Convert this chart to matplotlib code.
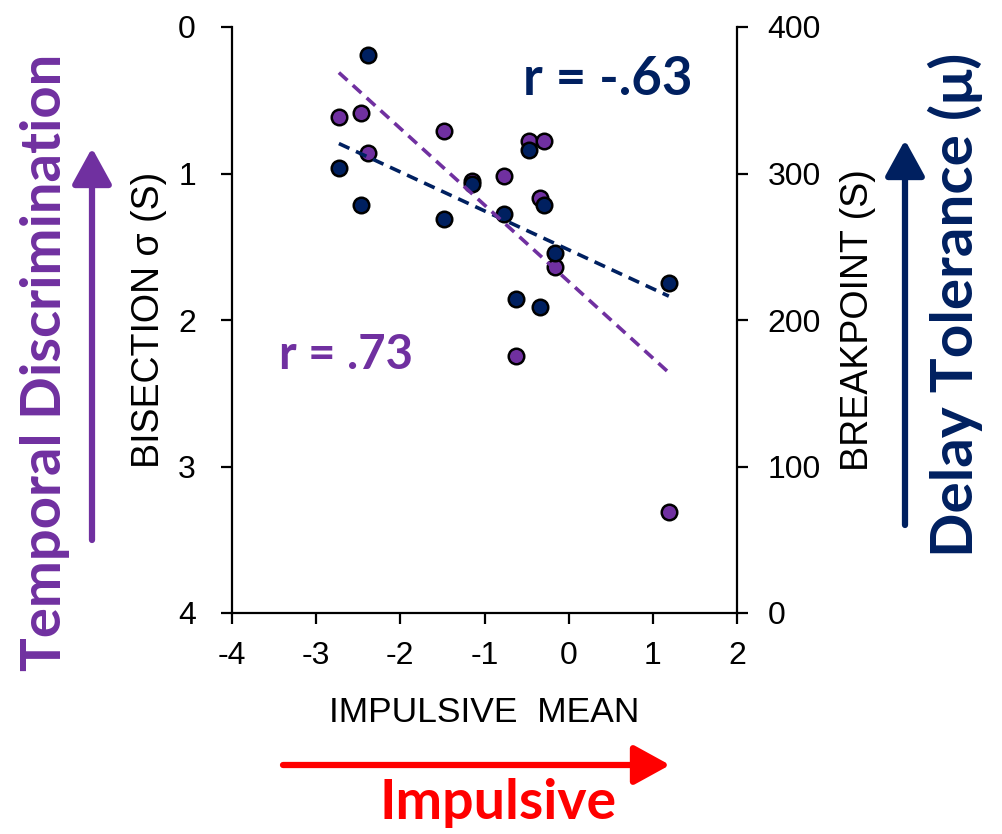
import numpy as np
import matplotlib
matplotlib.use("Agg")
import matplotlib.pyplot as plt
from matplotlib.patches import FancyArrowPatch

# ---- data ----
impulsive_mean = [-2.73, -2.47, -2.39, -1.48, -1.145, -0.77, -0.63, -0.47, -0.34, -0.29, -0.166, 1.19]
bisection_sigma = [0.612, 0.585, 0.858, 0.708, 1.05, 1.015, 2.244, 0.778, 1.165, 0.778, 1.636, 3.313]
breakpoint_s = [304, 278.5, 380.9, 268.7, 292.8, 272.2, 214.3, 316, 209.1, 278.5, 245.5, 225]
x_ticks = [-4, -3, -2, -1, 0, 1, 2]
left_ticks = [0, 1, 2, 3, 4]
right_ticks = [0, 100, 200, 300, 400]
r_purple = "r = .73"
r_navy = "r = -.63"

PURPLE = "#7030A0"
NAVY = "#002060"
RED = "#FF0000"

plt.rcParams['font.family'] = ['Liberation Sans', 'DejaVu Sans']
W, H = 1002, 834
fig = plt.figure(figsize=(W / 100, H / 100), dpi=100)

L, R, T, B = 232, 737, 27, 613
ax = fig.add_axes([L / W, 1 - B / H, (R - L) / W, (B - T) / H])
ax.set_xlim(-4, 2)
ax.set_ylim(4, 0)
ax.patch.set_alpha(0)

ax2 = ax.twinx()
ax2.set_ylim(0, 400)
ax3 = ax.twinx()
ax3.set_ylim(4, 0)
ax3.axis('off')

# scatter
ax.scatter(impulsive_mean, bisection_sigma, s=125, c=PURPLE, edgecolors='black', linewidths=1.8, zorder=3)
ax2.scatter(impulsive_mean, breakpoint_s, s=125, c=NAVY, edgecolors='black', linewidths=1.8, zorder=3)

# regression lines
xs = np.array([min(impulsive_mean), max(impulsive_mean)])
pp = np.polyfit(impulsive_mean, bisection_sigma, 1)
pn = np.polyfit(impulsive_mean, breakpoint_s, 1)
ax2.plot(xs, np.polyval(pn, xs), color=NAVY, lw=2.6, ls=(0, (3.2, 2.0)), zorder=4)
ax3.plot(xs, np.polyval(pp, xs), color=PURPLE, lw=2.6, ls=(0, (3.2, 2.0)), zorder=4)

for a in (ax, ax2):
    a.spines['top'].set_visible(False)
    for s in a.spines.values():
        s.set_linewidth(1.6)
ax2.spines['left'].set_visible(False)
ax2.spines['bottom'].set_visible(False)
ax.spines['right'].set_visible(False)

ax.set_xticks(x_ticks)
ax.set_xticklabels([str(v) for v in x_ticks])
ax.set_yticks(left_ticks)
ax.set_yticklabels([str(v) for v in left_ticks])
ax2.set_yticks(right_ticks)
ax2.set_yticklabels([str(v) for v in right_ticks])

ax.tick_params(axis='x', direction='out', length=8, width=1.6, labelsize=23, pad=12)
ax.tick_params(axis='y', direction='out', length=8, width=1.6, labelsize=23, pad=18)
ax2.tick_params(axis='y', direction='out', length=8, width=1.6, labelsize=23, pad=14)

ax.set_xlabel("IMPULSIVE  MEAN", fontsize=25.5, labelpad=18)
ax.set_ylabel("BISECTION σ (S)", fontsize=27, labelpad=8)
ax2.set_ylabel("BREAKPOINT (S)", fontsize=27, labelpad=14)

# r annotations
ax.text(0.745, 0.91, r_navy, transform=ax.transAxes, color=NAVY, fontsize=38,
        fontweight='bold', family=['Lato', 'DejaVu Sans'], ha='center', va='center')
ax.text(0.226, 0.44, r_purple, transform=ax.transAxes, color=PURPLE, fontsize=34,
        fontweight='bold', family=['Lato', 'DejaVu Sans'], ha='center', va='center')

# big side labels
def fx(px):
    return px / W

def fy(py):
    return 1 - py / H

fig.text(fx(45), fy(362), "Temporal Discrimination", rotation=90, color=PURPLE,
         fontsize=40.5, fontweight='bold', family=['Lato', 'DejaVu Sans'], ha='center', va='center')
fig.text(fx(955), fy(305), "Delay Tolerance (μ)", rotation=90, color=NAVY,
         fontsize=42, fontweight='bold', family=['Lato', 'DejaVu Sans'], ha='center', va='center')
fig.text(fx(498), fy(803), "Impulsive", color=RED,
         fontsize=40, fontweight='bold', family=['Lato', 'DejaVu Sans'], ha='center', va='center')

# arrows
def arrow(x0, y0, x1, y1, color):
    a = FancyArrowPatch((fx(x0), fy(y0)), (fx(x1), fy(y1)), transform=fig.transFigure,
                        arrowstyle='-|>,head_length=1.0,head_width=0.55', mutation_scale=22,
                        color=color, lw=4.5, capstyle='round', shrinkA=0, shrinkB=0)
    fig.patches.append(a)

arrow(92, 540, 92, 148, PURPLE)
arrow(905, 525, 905, 140, NAVY)
arrow(283, 765, 670, 765, RED)

fig.savefig("out.png", dpi=100)
